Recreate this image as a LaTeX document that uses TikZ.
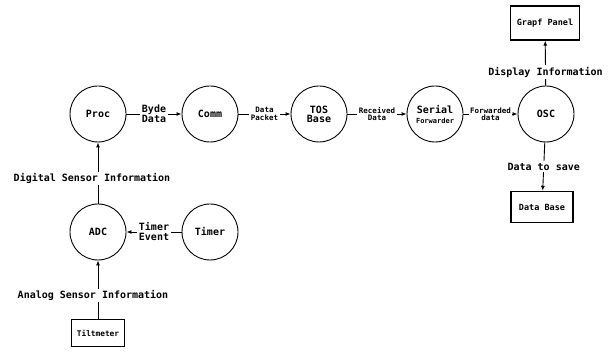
\documentclass[tikz,border=0pt]{standalone}
\usepackage{fontspec}
\setmainfont{DejaVu Sans Mono}
\usetikzlibrary{arrows.meta}

\tikzset{
  proc/.style={draw, circle, line width=0.9pt, minimum size=56pt, inner sep=0pt, font=\bfseries\fontsize{10}{11}\selectfont, align=center},
  store/.style={draw, rectangle, line width=1.4pt, inner sep=0pt, font=\bfseries\fontsize{8.5}{9}\selectfont},
  flow/.style={line width=0.9pt, -{Latex[length=5pt,width=4pt]}},
  lbl/.style={fill=white, inner sep=1.5pt, align=center, font=\bfseries\fontsize{10}{10}\selectfont},
  smalllbl/.style={fill=white, inner sep=1.5pt, align=center, font=\bfseries\fontsize{7.5}{7.5}\selectfont}
}

\begin{document}
\begin{tikzpicture}[x=1pt,y=-1pt]

  % Fix the size of the picture
  \useasboundingbox (0,0) rectangle (610,352);

  % Processes along the main row
  \node[proc] (proc) at (98,114) {Proc};
  \node[proc] (comm) at (210,114) {Comm};
  \node[proc] (tos) at (319,114) {TOS\\[-2pt]Base};
  \node[proc] (serial) at (435,114) {Serial\\[-1pt]{\fontsize{7}{7}\selectfont Forwarder}};
  \node[proc] (osc) at (546,114) {OSC};

  % Processes on the lower row
  \node[proc] (adc) at (98,232) {ADC};
  \node[proc] (timer) at (210,232) {Timer};

  % External boxes
  \node[store, minimum width=69pt, minimum height=34pt] (panel) at (545,23) {Grapf Panel};
  \node[store, minimum width=62pt, minimum height=31pt] (database) at (542,207) {Data Base};
  \node[store, minimum width=53pt, minimum height=27pt, font=\bfseries\fontsize{7.8}{8}\selectfont] (tilt) at (98,333) {Tiltmeter};

  % Data flows on the main row
  \draw[flow] (proc) -- node[lbl] {Byde\\Data} (comm);
  \draw[flow] (comm) -- node[smalllbl] {Data\\Packet} (tos);
  \draw[flow] (tos) -- node[smalllbl] {Received\\Data} (serial);
  \draw[flow] (serial) -- node[smalllbl] {Forwarded\\data} (osc);

  % Flows out of OSC
  \draw[flow] (osc) -- node[lbl, pos=0.3] {Display Information} (panel);
  \draw[flow] (osc) -- node[lbl] {Data to save} (database);

  % Flows into ADC and Proc
  \draw[flow] (timer) -- node[lbl] {Timer\\Event} (adc);
  \draw[flow] (tilt) -- node[lbl, pos=0.4, xshift=-5pt] {Analog Sensor Information} (adc);
  \draw[flow] (adc) -- node[lbl, pos=0.41, xshift=-6pt] {Digital Sensor Information} (proc);

\end{tikzpicture}
\end{document}
